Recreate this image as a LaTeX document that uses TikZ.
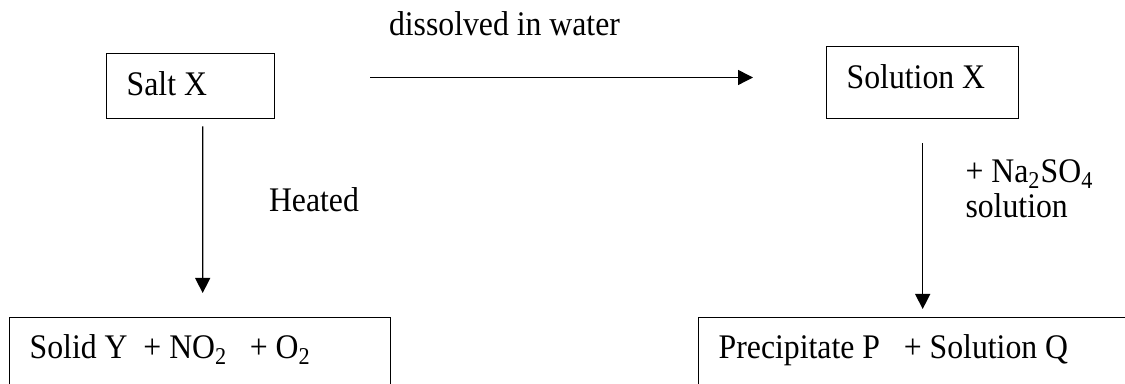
\documentclass[tikz,border=0pt]{standalone}
\usepackage{fontspec}
\setmainfont[FakeStretch=0.92]{Liberation Serif}
\usetikzlibrary{arrows.meta,calc}
\begin{document}
\begin{tikzpicture}[x=0.4pt, y=-0.4pt, font=\fontsize{13.8}{13.8}\selectfont,
    box/.style={draw, line width=0.55pt, anchor=north west, inner xsep=8pt, inner ysep=0pt, align=flush left},
    lbl/.style={inner sep=0pt, anchor=base west, align=flush left},
    arr/.style={line width=0.55pt, -{Triangle[length=6pt, width=6pt]}}]
    \useasboundingbox (0,0) rectangle (1125,384);
    \clip (0,0) rectangle (1125,384);
    \node[box, text width=51.2pt, text height=16.8pt, text depth=9.2pt] (salt) at (106,53) {Salt X};
    \node[box, text width=60.8pt, text height=16.8pt, text depth=12pt] (solX) at (826,46) {Solution X};
    \node[box, text width=136.4pt, text height=16.4pt, text depth=20pt] (solid) at (9,317)
      {Solid Y\ \ + NO\textsubscript{2}\hspace{0.65em}+ O\textsubscript{2}};
    \node[box, text width=162.8pt, text height=16.4pt, text depth=20pt] (precip) at (698,317)
      {Precipitate P\ \ \ + Solution Q};
    \draw[arr] ($(salt.north east)+(95,24.5)$) -- ($(solX.north west)+(-73,31.5)$);
    \draw[arr] ($(salt.south)+(12,7)$) -- ($(solid.north)+(2.5,-24)$);
    \draw[arr] ($(solX.south)+(0,24)$) -- ($(solX.south |- precip.north)+(0,-8)$);
    \node[lbl] (dissolved) at (388.5,36) {dissolved in water};
    \node[lbl] (heated) at (268.5,212) {Heated};
    \node[lbl] (reagent) at (965,217.5) {+ Na\textsubscript{2}SO\textsubscript{4}\\solution};
  \end{tikzpicture}
\end{document}
